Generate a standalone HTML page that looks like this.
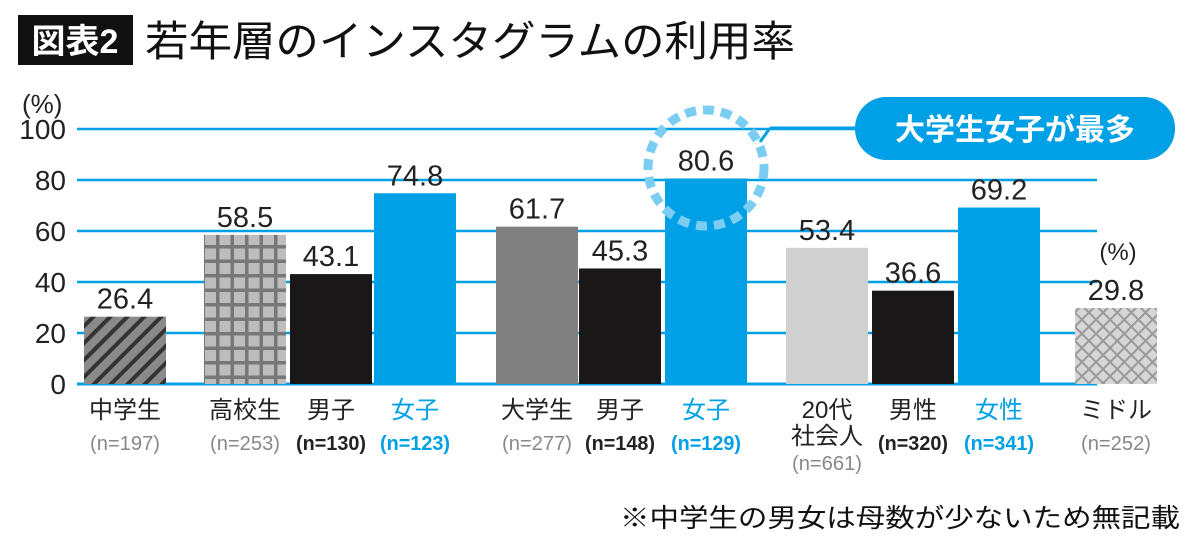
<!DOCTYPE html>
<html><head><meta charset="utf-8"><style>
body{margin:0;background:#fff;width:1200px;height:545px;overflow:hidden;font-family:"Liberation Sans","Noto Sans CJK JP",sans-serif}
</style></head><body>
<svg id="c" width="1200" height="545" xmlns="http://www.w3.org/2000/svg" font-family="Liberation Sans, Noto Sans CJK JP, sans-serif">
<defs>
<pattern id="hatch" width="12" height="12" patternUnits="userSpaceOnUse" patternTransform="rotate(45)"><rect width="12" height="12" fill="#8a8a8a"/><rect width="4" height="12" fill="#333"/></pattern>
<pattern id="grid" width="14.5" height="14.5" patternUnits="userSpaceOnUse"><rect width="14.5" height="14.5" fill="#777"/><rect x="2" y="2" width="11" height="11" fill="#bdbdbd"/></pattern>
<pattern id="cross" width="10" height="10" patternUnits="userSpaceOnUse" patternTransform="rotate(45)"><rect width="10" height="10" fill="#d6d6d6"/><rect width="2" height="10" fill="#999"/><rect width="10" height="2" fill="#999"/></pattern>
</defs>
<rect x="18" y="15" width="115" height="50" fill="#111"/>
<text x="75" y="53" fill="#fff" font-size="34" font-weight="bold" text-anchor="middle">図表2</text>
<text x="145" y="56" fill="#111" font-size="42" textLength="650" lengthAdjust="spacingAndGlyphs">若年層のインスタグラムの利用率</text>
<text x="22" y="113" font-size="26" fill="#222">(%)</text>
<g id="grid-g"></g>
<g id="bars"></g>
<circle cx="706" cy="168" r="58" fill="none" stroke="#7ccdf2" stroke-width="9" stroke-dasharray="11 7"/>
<path d="M770 128 L870 128 M770 128 L760 142" stroke="#00a0e6" stroke-width="3" fill="none"/>
<rect x="855" y="97" width="320" height="63" rx="31" fill="#00a0e6"/>
<text x="1015" y="140" fill="#fff" font-size="30" font-weight="bold" text-anchor="middle">大学生女子が最多</text>
<text x="1118" y="260" font-size="24" fill="#222" text-anchor="middle">(%)</text>
<text x="1180" y="527" font-size="26" fill="#111" text-anchor="end" textLength="560" lengthAdjust="spacingAndGlyphs">※中学生の男女は母数が少ないため無記載</text>
</svg>
<script>
const categories=["中学生","高校生","男子","女子","大学生","男子","女子","20代\n社会人","男性","女性","ミドル"];
const sampleSizes=["(n=197)","(n=253)","(n=130)","(n=123)","(n=277)","(n=148)","(n=129)","(n=661)","(n=320)","(n=341)","(n=252)"];
const values=[26.4,58.5,43.1,74.8,61.7,45.3,80.6,53.4,36.6,69.2,29.8];
const yTicks=[0,20,40,60,80,100];
const ns="http://www.w3.org/2000/svg";
const barX=[84,204,290,374,496,579,665,786,872,958,1075];
const fills=["url(#hatch)","url(#grid)","#1a1718","#00a0e6","#808080","#1a1718","#00a0e6","#d0d0d0","#1a1718","#00a0e6","url(#cross)"];
const labelCol=["#222","#222","#222","#00a0e6","#222","#222","#00a0e6","#222","#222","#00a0e6","#222"];
const nCol=["#888","#888","#222","#00a0e6","#888","#222","#00a0e6","#888","#222","#00a0e6","#888"];
const y=v=>384-v*2.55;
function mk(t,a,p,txt){const e=document.createElementNS(ns,t);for(const k in a)e.setAttribute(k,a[k]);if(txt!=null)e.textContent=txt;p.appendChild(e);return e;}
const gg=document.getElementById('grid-g'),bg=document.getElementById('bars');
yTicks.forEach(t=>{
 const l=mk('line',{x1:77,x2:t==100?860:1097,y1:y(t),y2:y(t),stroke:'#00a0e6','stroke-width':t==0?3:2.5},gg);
 
 
 const tx=mk('text',{x:66,y:y(t)+10,'font-size':28,fill:'#222','text-anchor':'end'},gg,t);
 
 
});
values.forEach((v,i)=>{
 const x=barX[i],w=82,cx=x+w/2;
 const r=mk('rect',{x:x,y:y(v),width:w,height:384-y(v),fill:fills[i]},bg);
 
 
 const vt=mk('text',{x:cx,y:y(v)-8,'font-size':29,fill:'#222','text-anchor':'middle'},bg,v.toFixed(1));
 
 
 const lines=categories[i].split("\n");
 lines.forEach((s,j)=>{
  const ct=mk('text',{x:cx,y:418+j*26,'font-size':24,fill:labelCol[i],'text-anchor':'middle'},bg,s);
  
  
 });
 const nt=mk('text',{x:cx,y:lines.length>1?470:450,'font-size':20,fill:nCol[i],'text-anchor':'middle','font-weight':nCol[i]=='#888'?'normal':'bold',textLength:70,lengthAdjust:'spacingAndGlyphs'},bg,sampleSizes[i]);
 
 
});
</script>
</body></html>
